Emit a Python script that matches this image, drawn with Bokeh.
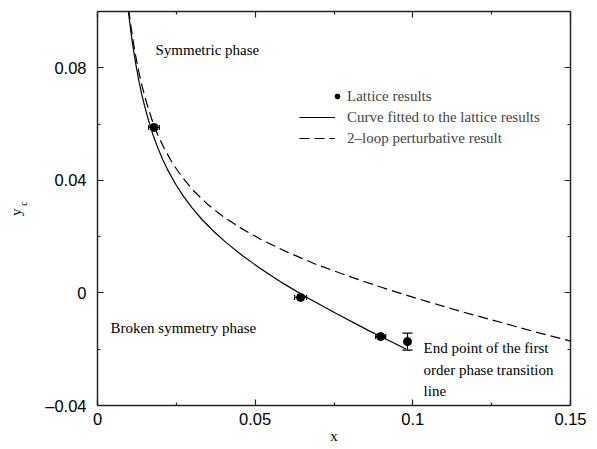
import numpy as np
from bokeh.plotting import figure
from bokeh.models import (Range1d, LinearAxis, FixedTicker, Whisker, TeeHead,
                          ColumnDataSource, Label, Legend, LegendItem)
from bokeh.embed import file_html
from bokeh.resources import INLINE

# ---------------- data ----------------
lat_x = [0.0179, 0.0644, 0.0898, 0.0983]
lat_y = [0.0588, -0.0016, -0.0155, -0.0173]
lat_xerr = [0.0017, 0.0019, 0.0016, 0.0]
lat_yerr = [0.0, 0.0, 0.0, 0.0030]

fit_x = [0.0096, 0.0100, 0.0105, 0.0110, 0.0116, 0.0123, 0.0131, 0.0140, 0.0150,
         0.0162, 0.0175, 0.0190, 0.0207, 0.0226, 0.0248, 0.0272, 0.0300, 0.0332,
         0.0368, 0.0410, 0.0460, 0.0520, 0.0590, 0.0670, 0.0760, 0.0860, 0.0898,
         0.0978]
fit_y = [0.1020, 0.0981, 0.0936, 0.0895, 0.0850, 0.0803, 0.0755, 0.0707, 0.0661,
         0.0612, 0.0565, 0.0519, 0.0473, 0.0430, 0.0386, 0.0344, 0.0302, 0.0260,
         0.0219, 0.0177, 0.0132, 0.0084, 0.0033, -0.0020, -0.0075, -0.0134, -0.0155,
         -0.0199]

pert_x = [0.0099, 0.0105, 0.0112, 0.0120, 0.0130, 0.0142, 0.0156, 0.0172, 0.0190,
          0.0212, 0.0238, 0.0268, 0.0304, 0.0346, 0.0395, 0.0452, 0.0520, 0.0600,
          0.0690, 0.0790, 0.0900, 0.1020, 0.1150, 0.1290, 0.1400, 0.1500]
pert_y = [0.1007, 0.0956, 0.0903, 0.0849, 0.0791, 0.0732, 0.0674, 0.0618, 0.0565,
          0.0512, 0.0461, 0.0412, 0.0364, 0.0318, 0.0274, 0.0232, 0.0189, 0.0146,
          0.0103, 0.0062, 0.0020, -0.0022, -0.0065, -0.0108, -0.0142, -0.0171]

x_ticks = [0.0, 0.05, 0.1, 0.15]
x_tick_labels = ["0", "0.05", "0.1", "0.15"]
x_minor_ticks = [0.025, 0.075, 0.125]
y_ticks = [-0.04, 0.0, 0.04, 0.08]
y_tick_labels = ["\u20130.04", "0", "0.04", "0.08"]
y_minor_ticks = [-0.02, 0.02, 0.06, 0.1]

SERIF = "Liberation Serif"
SANS = "Liberation Sans"
INK = "#222222"

# ---------------- figure ----------------
p = figure(width=597, height=449,
           x_range=Range1d(0, 0.15), y_range=Range1d(-0.04, 0.1),
           x_axis_type=None, y_axis_type=None,
           output_backend="svg", toolbar_location=None,
           min_border_left=97, min_border_top=11, min_border_right=27,
           min_border_bottom=44)
p.outline_line_color = INK
p.outline_line_width = 1.2
p.background_fill_color = "white"


def make_axis(ticks, minor, labels, show, standoff=9):
    ax = LinearAxis(ticker=FixedTicker(ticks=ticks, minor_ticks=minor))
    ax.major_tick_in = 6
    ax.major_tick_out = 0
    ax.minor_tick_in = 3
    ax.minor_tick_out = 0
    ax.axis_line_color = INK
    ax.axis_line_width = 1.3
    ax.major_tick_line_color = INK
    ax.minor_tick_line_color = INK
    ax.major_tick_line_width = 1.2
    ax.minor_tick_line_width = 1.2
    if show:
        ax.major_label_overrides = {t: l for t, l in zip(ticks, labels)}
        ax.major_label_text_font = SANS
        ax.major_label_text_font_size = "16.5px"
        ax.major_label_text_color = "black"
        ax.major_label_standoff = standoff
    else:
        ax.major_label_text_font_size = "0px"
        ax.major_label_text_alpha = 0
        ax.major_label_standoff = 0
    return ax


# bottom axis with title "x"
ax_b = make_axis(x_ticks, x_minor_ticks, x_tick_labels, True, standoff=7)
ax_b.axis_label = "x"
ax_b.axis_label_text_font = SERIF
ax_b.axis_label_text_font_size = "15px"
ax_b.axis_label_text_font_style = "normal"
ax_b.axis_label_text_color = "black"
ax_b.axis_label_standoff = 0
p.add_layout(ax_b, "below")

# left axis: ticks + labels, its title carries the subscript "c"
ax_l = make_axis(y_ticks, y_minor_ticks, y_tick_labels, True, standoff=11)
ax_l.axis_label = "\u2002\u2002c"
ax_l.axis_label_text_font = SERIF
ax_l.axis_label_text_font_size = "10px"
ax_l.axis_label_text_font_style = "normal"
ax_l.axis_label_text_color = "black"
ax_l.axis_label_standoff = 13
p.add_layout(ax_l, "left")

# outer left axis: only the title "y"
ax_y = LinearAxis(ticker=FixedTicker(ticks=[]))
ax_y.axis_line_color = None
ax_y.major_tick_line_color = None
ax_y.minor_tick_line_color = None
ax_y.major_label_text_font_size = "0px"
ax_y.major_label_standoff = 0
ax_y.axis_label = "y\u2002"
ax_y.axis_label_text_font = SERIF
ax_y.axis_label_text_font_size = "15px"
ax_y.axis_label_text_font_style = "normal"
ax_y.axis_label_text_color = "black"
ax_y.axis_label_standoff = -8
p.add_layout(ax_y, "left")

p.add_layout(make_axis(x_ticks, x_minor_ticks, x_tick_labels, False), "above")
p.add_layout(make_axis(y_ticks, y_minor_ticks, y_tick_labels, False), "right")

# ---------------- curves ----------------
fit_r = p.line(fit_x, fit_y, line_color="black", line_width=1.2)
pert_r = p.line(pert_x, pert_y, line_color="black", line_width=1.2,
                line_dash="10 5")

# ---------------- lattice points with error bars ----------------
lx = np.array(lat_x)
ly = np.array(lat_y)
lxe = np.array(lat_xerr)
lye = np.array(lat_yerr)
mx = lxe > 0
my = lye > 0

src_xe = ColumnDataSource(dict(base=ly[mx], lower=(lx - lxe)[mx], upper=(lx + lxe)[mx]))
p.add_layout(Whisker(source=src_xe, base="base", lower="lower", upper="upper",
                     dimension="width", line_color="black", line_width=1.2,
                     upper_head=TeeHead(size=5, line_color="black", line_width=1.2),
                     lower_head=TeeHead(size=5, line_color="black", line_width=1.2)))
src_ye = ColumnDataSource(dict(base=lx[my], lower=(ly - lye)[my], upper=(ly + lye)[my]))
p.add_layout(Whisker(source=src_ye, base="base", lower="lower", upper="upper",
                     dimension="height", line_color="black", line_width=1.2,
                     upper_head=TeeHead(size=10, line_color="black", line_width=1.2),
                     lower_head=TeeHead(size=10, line_color="black", line_width=1.2)))

pts_r = p.scatter(lat_x, lat_y, marker="circle", size=8, fill_color="black",
                  line_color="black")

# ---------------- legend (two blocks so the dot sits next to its text) ----------------
common = dict(glyph_height=20, label_height=20, spacing=1, padding=0, margin=0,
              border_line_color=None, background_fill_alpha=0,
              label_text_font=SERIF, label_text_font_size="15px",
              label_text_baseline="middle")
leg_pts = Legend(items=[LegendItem(label="Lattice results", renderers=[pts_r])],
                 location=(234, 299), glyph_width=12, label_standoff=4, **common)
leg_lines = Legend(items=[
    LegendItem(label="Curve fitted to the lattice results", renderers=[fit_r]),
    LegendItem(label="2\u2013loop perturbative result", renderers=[pert_r]),
], location=(202, 257), glyph_width=36, label_standoff=12, **common)
p.add_layout(leg_pts)
p.add_layout(leg_lines)


# ---------------- annotations ----------------
def add_text(x, y, txt, size="15px", align="left"):
    p.add_layout(Label(x=x, y=y, text=txt, text_font=SERIF, text_font_size=size,
                       text_align=align, text_baseline="middle",
                       text_color="black"))


add_text(0.0184, 0.0864, "Symmetric phase")
add_text(0.0041, -0.0123, "Broken symmetry phase")
add_text(0.1034, -0.0194, "End point of the first")
add_text(0.1034, -0.0274, "order phase transition")
add_text(0.1034, -0.0349, "line")

open("out.html", "w").write(file_html(p, INLINE))
